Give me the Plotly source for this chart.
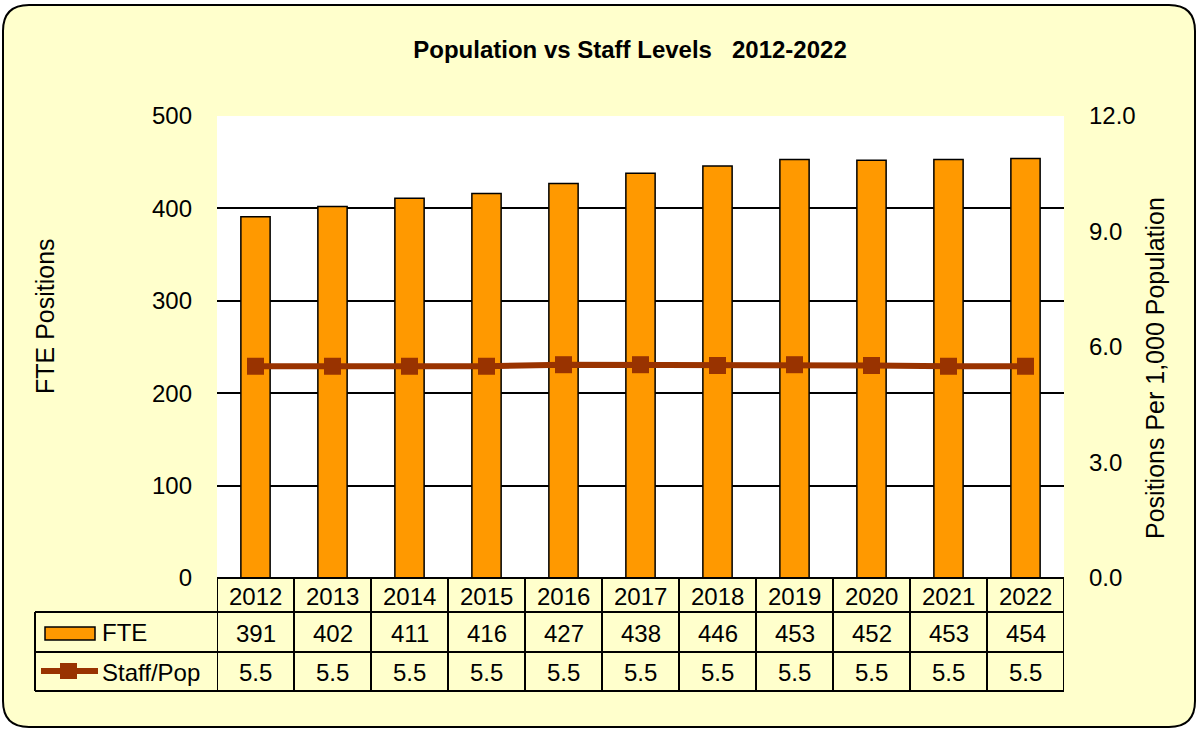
import plotly.graph_objects as go

# ---------------- data ----------------
years = ["2012", "2013", "2014", "2015", "2016", "2017", "2018", "2019", "2020", "2021", "2022"]
fte = [391, 402, 411, 416, 427, 438, 446, 453, 452, 453, 454]
staff_pop = [5.50, 5.50, 5.50, 5.50, 5.54, 5.54, 5.52, 5.54, 5.52, 5.50, 5.50]
fte_ticks = [0, 100, 200, 300, 400, 500]
ratio_ticks = [0, 3, 6, 9, 12]
title_text = "Population vs Staff Levels&nbsp;&nbsp;&nbsp;2012-2022"
left_title = "FTE Positions"
right_title = "Positions Per 1,000 Population"
series_names = ["FTE", "Staff/Pop"]

# ---------------- layout geometry (pixels) ----------------
W, H = 1198, 730
L, R, T, B = 217, 1064, 116, 578
PW, PH = R - L, B - T
FONT = "Liberation Sans, Arial, sans-serif"
BG = "#FFFFCC"
BAR = "#FF9900"
LINE = "#993300"
FS = 24


def px(x):
    return (x - L) / PW


def py(y):
    return (B - y) / PH


fig = go.Figure()
fig.add_trace(go.Bar(
    x=years, y=fte, name=series_names[0],
    marker=dict(color=BAR, line=dict(color="black", width=1.5)),
    yaxis="y"))
fig.add_trace(go.Scatter(
    x=years, y=staff_pop, name=series_names[1], mode="lines+markers",
    line=dict(color=LINE, width=6),
    marker=dict(symbol="square", size=17, color=LINE),
    yaxis="y2"))

shapes = []
# rounded background panel
x0, y0, x1, y1, r = 3, 5, 1195, 727, 26
path = (f"M {px(x0 + r)},{py(y0)} L {px(x1 - r)},{py(y0)} "
        f"Q {px(x1)},{py(y0)} {px(x1)},{py(y0 + r)} "
        f"L {px(x1)},{py(y1 - r)} Q {px(x1)},{py(y1)} {px(x1 - r)},{py(y1)} "
        f"L {px(x0 + r)},{py(y1)} Q {px(x0)},{py(y1)} {px(x0)},{py(y1 - r)} "
        f"L {px(x0)},{py(y0 + r)} Q {px(x0)},{py(y0)} {px(x0 + r)},{py(y0)} Z")
shapes.append(dict(type="path", path=path, xref="paper", yref="paper",
                   fillcolor=BG, line=dict(color="black", width=2), layer="below"))
# white plot area
shapes.append(dict(type="rect", xref="paper", yref="paper", x0=0, x1=1, y0=0, y1=1,
                   fillcolor="white", line=dict(width=0), layer="below"))

# data table grid
row_y = [578, 612, 652, 691]
tbl_left = 35
lw = 2
shapes.append(dict(type="line", xref="paper", yref="paper", x0=0, x1=1,
                   y0=py(row_y[0]), y1=py(row_y[0]), line=dict(color="black", width=lw)))
for yy in row_y[1:]:
    shapes.append(dict(type="line", xref="paper", yref="paper", x0=px(tbl_left), x1=1,
                       y0=py(yy), y1=py(yy), line=dict(color="black", width=lw)))
shapes.append(dict(type="line", xref="paper", yref="paper", x0=px(tbl_left), x1=px(tbl_left),
                   y0=py(row_y[1]), y1=py(row_y[3]), line=dict(color="black", width=lw)))
for i in range(len(years) + 1):
    shapes.append(dict(type="line", xref="x", yref="paper", x0=i - 0.5, x1=i - 0.5,
                       y0=py(row_y[0]), y1=py(row_y[3]), line=dict(color="black", width=lw)))

# legend keys in table
shapes.append(dict(type="rect", xref="paper", yref="paper", x0=px(45), x1=px(95),
                   y0=py(640), y1=py(627), fillcolor=BAR, line=dict(color="black", width=1.5)))
shapes.append(dict(type="line", xref="paper", yref="paper", x0=px(41), x1=px(98),
                   y0=py(671), y1=py(671), line=dict(color=LINE, width=6)))
shapes.append(dict(type="rect", xref="paper", yref="paper", x0=px(60), x1=px(77),
                   y0=py(679), y1=py(663), fillcolor=LINE, line=dict(width=0)))

annotations = []
tfont = dict(family=FONT, size=FS, color="black")
for i, (yr, f, s) in enumerate(zip(years, fte, staff_pop)):
    annotations.append(dict(x=i, xref="x", y=py(596), yref="paper", text=yr,
                            showarrow=False, font=tfont, xanchor="center", yanchor="middle"))
    annotations.append(dict(x=i, xref="x", y=py(633), yref="paper", text=f"{f:d}",
                            showarrow=False, font=tfont, xanchor="center", yanchor="middle"))
    annotations.append(dict(x=i, xref="x", y=py(672), yref="paper", text=f"{s:.1f}",
                            showarrow=False, font=tfont, xanchor="center", yanchor="middle"))
annotations.append(dict(x=px(100), xref="paper", y=py(632), yref="paper", text=series_names[0],
                        showarrow=False, font=tfont, xanchor="left", yanchor="middle"))
annotations.append(dict(x=px(100), xref="paper", y=py(672), yref="paper", text=series_names[1],
                        showarrow=False, font=tfont, xanchor="left", yanchor="middle"))
# axis titles
atfont = dict(family=FONT, size=25, color="black")
annotations.append(dict(x=px(45), xref="paper", y=py(316), yref="paper", text=left_title,
                        textangle=-90, showarrow=False, font=atfont,
                        xanchor="center", yanchor="middle"))
annotations.append(dict(x=px(1155), xref="paper", y=py(368), yref="paper", text=right_title,
                        textangle=-90, showarrow=False, font=atfont,
                        xanchor="center", yanchor="middle"))

fig.update_layout(
    width=W, height=H, autosize=False,
    margin=dict(l=L, r=W - R, t=T, b=H - B, pad=0),
    paper_bgcolor="white", plot_bgcolor="white",
    showlegend=False,
    bargap=0.62,
    title=dict(text=f"<b>{title_text}</b>", x=630 / W, xanchor="center",
               y=1 - 50 / H, yanchor="middle", xref="container", yref="container",
               font=dict(family=FONT, size=24, color="black")),
    font=dict(family=FONT, size=FS, color="black"),
    xaxis=dict(type="category", range=[-0.5, len(years) - 0.5], showticklabels=False,
               showgrid=False, showline=False, zeroline=False, ticks=""),
    yaxis=dict(range=[0, 500], tickvals=fte_ticks, ticktext=[str(v) for v in fte_ticks],
               showgrid=True, gridcolor="black", gridwidth=1.5, zeroline=False,
               showline=False, ticks="", ticklabelstandoff=24,
               tickfont=dict(family=FONT, size=FS, color="black")),
    yaxis2=dict(range=[0, 12], overlaying="y", side="right", tickvals=ratio_ticks,
                ticktext=[f"{v:.1f}" for v in ratio_ticks], showgrid=False,
                zeroline=False, showline=False, ticks="", ticklabelstandoff=24,
                tickfont=dict(family=FONT, size=FS, color="black")),
    shapes=shapes,
    annotations=annotations,
)

fig.write_html("out.html", config={"displayModeBar": False},
               post_script="document.body.style.margin='0px';")
